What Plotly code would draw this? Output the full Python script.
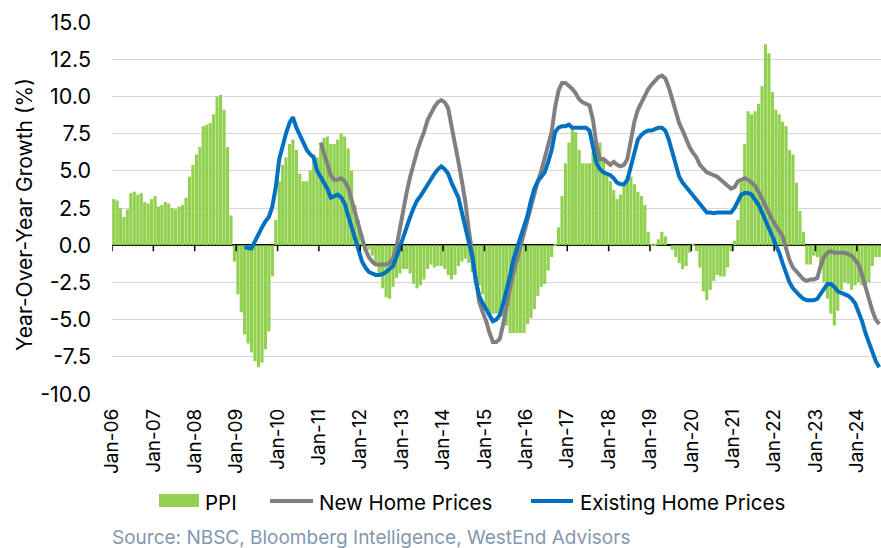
import pandas as pd
import plotly.graph_objects as go

# ---------------- data (monthly, year-over-year %) ----------------
ppi_start = "2006-01-01"
ppi = [
    3.1, 3.0, 2.5, 1.9, 2.4, 3.5, 3.6, 3.4, 3.5, 2.9, 2.8, 3.1,          # 2006
    3.3, 2.6, 2.7, 2.9, 2.8, 2.5, 2.4, 2.6, 2.7, 3.2, 4.6, 5.4,          # 2007
    6.1, 6.6, 8.0, 8.1, 8.2, 8.8, 10.0, 10.1, 9.1, 6.6, 2.0, -1.1,       # 2008
    -3.3, -4.5, -6.0, -6.6, -7.2, -7.8, -8.2, -7.9, -7.0, -5.8, -2.1, 1.7,  # 2009
    4.3, 5.4, 5.9, 6.8, 7.1, 6.4, 4.8, 4.3, 4.3, 5.0, 6.1, 5.9,          # 2010
    6.6, 7.2, 7.3, 6.8, 6.8, 7.1, 7.5, 7.3, 6.5, 5.0, 2.7, 1.7,          # 2011
    0.7, 0.0, -0.3, -0.7, -1.4, -2.1, -2.9, -3.5, -3.6, -2.8, -2.2, -1.9,  # 2012
    -1.6, -1.6, -1.9, -2.6, -2.9, -2.7, -2.3, -1.6, -1.3, -1.5, -1.4, -1.4,  # 2013
    -1.6, -2.0, -2.3, -2.0, -1.4, -1.1, -0.9, -1.2, -1.8, -2.2, -2.7, -3.3,  # 2014
    -4.3, -4.8, -4.6, -4.6, -4.6, -4.8, -5.4, -5.9, -5.9, -5.9, -5.9, -5.9,  # 2015
    -5.3, -4.9, -4.3, -3.4, -2.8, -2.6, -1.7, -0.8, 0.1, 1.2, 3.3, 5.5,  # 2016
    6.9, 7.8, 7.6, 6.4, 5.5, 5.5, 5.5, 6.3, 6.9, 6.9, 5.8, 4.9,          # 2017
    4.3, 3.7, 3.1, 3.4, 4.1, 4.7, 4.6, 4.1, 3.6, 3.3, 2.7, 0.9,          # 2018
    0.1, 0.1, 0.4, 0.9, 0.6, 0.0, -0.3, -0.8, -1.2, -1.6, -1.4, -0.5,    # 2019
    0.1, -0.4, -1.5, -3.1, -3.7, -3.0, -2.4, -2.0, -2.1, -2.1, -1.5, -0.4,  # 2020
    0.3, 1.7, 4.4, 6.8, 9.0, 8.8, 9.0, 9.5, 10.7, 13.5, 12.9, 10.3,      # 2021
    9.1, 8.8, 8.3, 8.0, 6.4, 6.1, 4.2, 2.3, 0.9, -1.3, -1.3, -0.7,       # 2022
    -0.8, -1.4, -2.5, -3.6, -4.6, -5.4, -4.4, -3.0, -2.5, -2.6, -3.0, -2.7,  # 2023
    -2.5, -2.7, -2.8, -2.5, -1.4, -0.8, -0.8,                            # 2024
]

new_start = "2011-01-01"
new_home = [
    6.9, 6.2, 5.4, 4.7, 4.4, 4.4, 4.5, 4.3, 3.9, 3.0, 2.3, 1.2,          # 2011
    0.5, -0.3, -0.8, -1.1, -1.3, -1.3, -1.3, -1.3, -1.2, -0.9, -0.1, 1.2,  # 2012
    2.4, 3.6, 4.6, 5.5, 6.3, 7.0, 7.6, 8.4, 8.9, 9.3, 9.6, 9.75,         # 2013
    9.6, 9.2, 8.0, 6.9, 5.6, 4.3, 2.9, 1.0, -0.6, -2.6, -3.8, -4.5,      # 2014
    -5.1, -5.9, -6.5, -6.5, -6.3, -5.3, -4.0, -2.8, -1.8, -0.9, -0.1, 0.8,  # 2015
    1.6, 2.5, 3.5, 4.3, 5.0, 5.8, 6.6, 7.6, 9.3, 10.4, 10.9, 10.9,       # 2016
    10.7, 10.5, 10.2, 9.8, 9.6, 9.5, 9.4, 8.4, 6.7, 5.75, 5.8, 5.6,      # 2017
    5.4, 5.6, 5.4, 5.3, 5.4, 5.8, 7.0, 8.3, 9.1, 9.6, 10.1, 10.5,        # 2018
    10.8, 11.1, 11.3, 11.4, 11.2, 10.6, 9.8, 8.9, 8.2, 7.7, 7.1, 6.6,    # 2019
    6.2, 5.9, 5.4, 5.1, 4.9, 4.8, 4.7, 4.6, 4.4, 4.2, 4.0, 3.8,          # 2020
    3.9, 4.3, 4.4, 4.5, 4.4, 4.2, 4.0, 3.6, 3.1, 2.6, 2.1, 1.7,          # 2021
    1.3, 0.9, 0.6, -0.2, -1.0, -1.5, -1.8, -2.1, -2.3, -2.4, -2.3, -2.3,  # 2022
    -2.2, -1.4, -0.8, -0.5, -0.4, -0.5, -0.5, -0.5, -0.5, -0.6, -0.7, -1.0,  # 2023
    -1.3, -2.0, -2.7, -3.6, -4.4, -5.0, -5.3,                            # 2024
]

existing_start = "2009-03-01"
existing = [
    -0.1, -0.2, -0.2, 0.3, 0.8, 1.2, 1.6, 1.9, 2.6, 3.9,                 # 2009 (Mar-Dec)
    5.8, 6.8, 7.5, 8.2, 8.6, 7.9, 7.4, 6.9, 6.4, 6.1, 5.9, 5.0,          # 2010
    4.6, 4.3, 3.8, 3.2, 3.3, 3.4, 3.2, 2.8, 2.0, 1.2, 0.4, -0.4,         # 2011
    -1.1, -1.5, -1.8, -1.9, -2.0, -2.0, -1.95, -1.8, -1.6, -1.4, -0.8, -0.1,  # 2012
    0.7, 1.3, 1.9, 2.5, 3.0, 3.3, 3.7, 4.0, 4.5, 4.8, 5.1, 5.3,          # 2013
    5.1, 4.8, 4.2, 3.7, 3.2, 2.2, 1.2, 0.3, -0.8, -2.4, -3.4, -3.9,      # 2014
    -4.3, -4.8, -5.1, -5.0, -4.7, -3.9, -3.0, -2.0, -0.9, -0.2, 0.5, 1.3,  # 2015
    2.0, 3.0, 3.8, 4.3, 4.6, 4.9, 5.6, 6.4, 7.6, 7.9, 8.0, 8.0,          # 2016
    8.1, 7.9, 7.9, 7.9, 7.9, 7.9, 7.7, 6.6, 5.5, 5.1, 4.9, 4.8,          # 2017
    4.7, 4.5, 4.2, 4.1, 4.1, 4.4, 5.3, 6.3, 7.1, 7.4, 7.6, 7.7,          # 2018
    7.7, 7.8, 7.9, 7.9, 7.7, 7.1, 6.2, 5.3, 4.6, 4.2, 3.9, 3.7,          # 2019
    3.4, 3.1, 2.7, 2.4, 2.2, 2.2, 2.15, 2.2, 2.2, 2.2, 2.2, 2.2,         # 2020
    2.5, 3.0, 3.4, 3.5, 3.5, 3.4, 3.1, 2.7, 2.2, 1.7, 1.2, 0.6,          # 2021
    0.0, -0.5, -1.2, -1.9, -2.5, -2.9, -3.2, -3.4, -3.6, -3.7, -3.7, -3.7,  # 2022
    -3.6, -3.3, -2.9, -2.6, -2.6, -2.8, -3.1, -3.2, -3.3, -3.4, -3.6, -3.9,  # 2023
    -4.5, -5.1, -5.9, -6.5, -7.2, -7.8, -8.2,                            # 2024
]

series_names = ["PPI", "New Home Prices", "Existing Home Prices"]
series_colors = ["#92D050", "#808080", "#0070C0"]
tick_years = list(range(2006, 2025))
tick_labels = [f"Jan-{y % 100:02d}" for y in tick_years]
y_ticks = [15.0, 12.5, 10.0, 7.5, 5.0, 2.5, 0.0, -2.5, -5.0, -7.5, -10.0]
y_tick_labels = [f"{v:.1f}" for v in y_ticks]
y_title = "Year-Over-Year Growth (%)"
source_text = "Source: NBSC, Bloomberg Intelligence, WestEnd Advisors"

# ---------------- layout geometry ----------------
W, H = 881, 548
M_L, M_R, M_T, M_B = 112, 0, 22, 154
FONT = "Inter, Liberation Sans, Arial, sans-serif"


def px(x):
    """pixel column -> paper fraction (relative to plot area)"""
    return (x - M_L) / (W - M_L - M_R)


def py(y):
    """pixel row -> paper fraction (relative to plot area)"""
    return (H - M_B - y) / (H - M_T - M_B)


ppi_months = pd.date_range(ppi_start, periods=len(ppi), freq="MS")
new_months = pd.date_range(new_start, periods=len(new_home), freq="MS")
ex_months = pd.date_range(existing_start, periods=len(existing), freq="MS")
tick_dates = [pd.Timestamp(f"{y}-01-01") for y in tick_years]

fig = go.Figure()
fig.add_trace(go.Bar(
    x=ppi_months, y=ppi, name=series_names[0],
    marker=dict(color=series_colors[0], line=dict(width=0)),
    xperiod="M1", xperiodalignment="middle", showlegend=False,
))
fig.add_trace(go.Scatter(
    x=new_months, y=new_home, name=series_names[1], mode="lines",
    line=dict(color=series_colors[1], width=4),
    xperiod="M1", xperiodalignment="middle", showlegend=False,
))
fig.add_trace(go.Scatter(
    x=ex_months, y=existing, name=series_names[2], mode="lines",
    line=dict(color=series_colors[2], width=4),
    xperiod="M1", xperiodalignment="middle", showlegend=False,
))

# tick marks hanging below the zero axis line
for d in tick_dates:
    fig.add_shape(
        type="line", xref="x", yref="y", x0=d, x1=d,
        ysizemode="pixel", yanchor=0, y0=0, y1=-6,
        line=dict(color="#000000", width=1.5),
    )

# legend (drawn below the axis labels, Excel style)
leg_y = 501
fig.add_shape(type="rect", xref="paper", yref="paper",
              x0=px(159), x1=px(199), y0=py(507), y1=py(494),
              fillcolor=series_colors[0], line=dict(width=0))
fig.add_shape(type="line", xref="paper", yref="paper",
              x0=px(270), x1=px(313), y0=py(leg_y), y1=py(leg_y),
              line=dict(color=series_colors[1], width=4))
fig.add_shape(type="line", xref="paper", yref="paper",
              x0=px(531), x1=px(573), y0=py(leg_y), y1=py(leg_y),
              line=dict(color=series_colors[2], width=4))
for name, x_left in zip(series_names, [203, 317, 578]):
    fig.add_annotation(
        text=name, xref="paper", yref="paper", x=px(x_left), y=py(leg_y + 1),
        xanchor="left", yanchor="middle", showarrow=False,
        font=dict(family=FONT, size=20.5, color="#000000"),
    )

# y-axis title
fig.add_annotation(
    text=y_title, xref="paper", yref="paper", x=px(24), y=py(215),
    xanchor="center", yanchor="middle", textangle=-90, showarrow=False,
    font=dict(family=FONT, size=21, color="#000000"),
)

fig.add_annotation(
    text=source_text,
    xref="paper", yref="paper", x=px(110), y=py(537),
    xanchor="left", yanchor="middle", showarrow=False,
    font=dict(family=FONT, size=19, color="#8497B0"),
)

fig.update_layout(
    width=W, height=H, autosize=False,
    margin=dict(l=M_L, r=M_R, t=M_T, b=M_B),
    paper_bgcolor="white", plot_bgcolor="white",
    font=dict(family=FONT, size=20, color="#000000"),
    bargap=0.06,
    showlegend=False,
    xaxis=dict(
        range=["2006-01-01", "2024-08-01"],
        tickmode="array", tickvals=tick_dates, ticktext=tick_labels,
        tickangle=-90, ticks="", showgrid=False, showline=False, zeroline=False,
        tickfont=dict(family=FONT, size=19, color="#000000"),
        ticklabelstandoff=10,
    ),
    yaxis=dict(
        range=[-10, 15], tickmode="array", tickvals=y_ticks, ticktext=y_tick_labels,
        showgrid=True, gridcolor="#D3D6DB", gridwidth=1.3,
        zeroline=True, zerolinecolor="#000000", zerolinewidth=1.5,
        showline=False, ticks="", ticklabelstandoff=20,
        tickfont=dict(family=FONT, size=21.5, color="#000000"),
    ),
)

fig.write_html(
    "out.html",
    config={"displayModeBar": False},
    post_script="document.body.style.margin='0px';document.body.style.overflow='hidden';",
)
